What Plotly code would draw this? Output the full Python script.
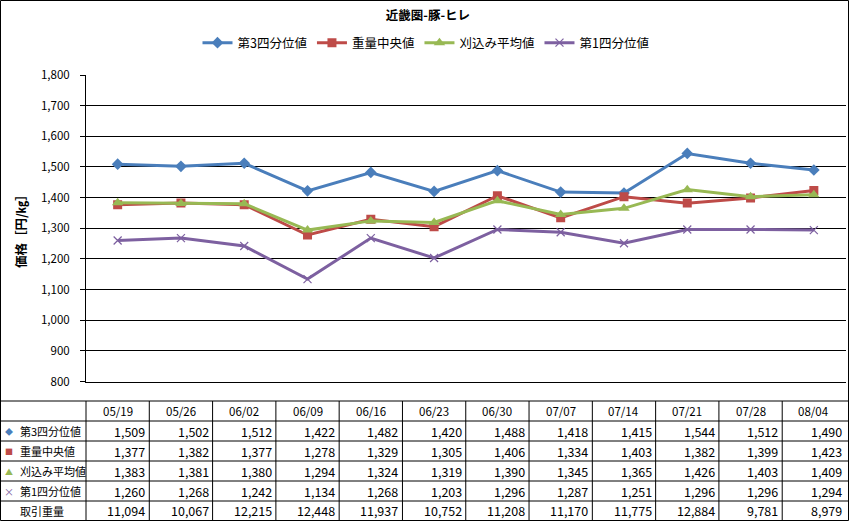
import plotly.graph_objects as go

W = 857
H = 521

dates = ["05/19", "05/26", "06/02", "06/09", "06/16", "06/23",
         "06/30", "07/07", "07/14", "07/21", "07/28", "08/04"]
q3 = [1509, 1502, 1512, 1422, 1482, 1420, 1488, 1418, 1415, 1544, 1512, 1490]
median_w = [1377, 1382, 1377, 1278, 1329, 1305, 1406, 1334, 1403, 1382, 1399, 1423]
trim_mean = [1383, 1381, 1380, 1294, 1324, 1319, 1390, 1345, 1365, 1426, 1403, 1409]
q1 = [1260, 1268, 1242, 1134, 1268, 1203, 1296, 1287, 1251, 1296, 1296, 1294]
volume = [11094, 10067, 12215, 12448, 11937, 10752, 11208, 11170, 11775, 12884, 9781, 8979]

names = ["第3四分位値", "重量中央値", "刈込み平均値", "第1四分位値"]
colors = ["#4A7EBB", "#BE4B48", "#98B954", "#7D60A0"]
symbols = ["diamond", "square", "triangle-up", "x-thin"]
msizes = [9, 9, 10, 8]
table_marks = ["◆", "■", "▲", "×"]

FONT = "Noto Sans CJK JP"


def px(x):
    return x / W


def py(y):
    return 1 - y / H


idx = list(range(len(dates)))

fig = go.Figure()
for name, vals, c, s, ms in zip(names, [q3, median_w, trim_mean, q1], colors, symbols, msizes):
    fig.add_trace(go.Scatter(
        x=idx, y=vals, name=name, mode="lines+markers",
        line=dict(color=c, width=3),
        marker=dict(symbol=s, size=ms, color=c,
                    line=dict(color=c, width=1.2 if s == "x-thin" else 0)),
    ))

shapes = []
# outer frame
shapes.append(dict(type="rect", xref="paper", yref="paper",
                   x0=px(0.5), x1=px(848.5), y0=py(520.5), y1=py(0.5),
                   line=dict(color="black", width=1)))

# data table grid
row_lines = [401, 421, 441, 461, 481, 501]
for ry in row_lines:
    shapes.append(dict(type="line", xref="paper", yref="paper",
                       x0=px(0), x1=px(848.5), y0=py(ry), y1=py(ry),
                       line=dict(color="black", width=1)))
shapes.append(dict(type="line", xref="paper", yref="paper",
                   x0=px(86), x1=px(86), y0=py(401), y1=py(520.5),
                   line=dict(color="black", width=1)))
for i in idx[1:]:
    shapes.append(dict(type="line", xref="x", yref="paper",
                       x0=i - 0.5, x1=i - 0.5, y0=py(401), y1=py(520.5),
                       line=dict(color="black", width=1)))

ann = []
row_mid = [411, 431, 451, 471, 491, 510.5]
# header row
for i, d in zip(idx, dates):
    ann.append(dict(x=i, y=py(row_mid[0]), xref="x", yref="paper", text=d,
                    showarrow=False, xanchor="center", yanchor="middle",
                    font=dict(family=FONT, size=11.5, color="black")))

rows = [q3, median_w, trim_mean, q1, volume]
labels = names + ["取引重量"]
for r, (lab, vals) in enumerate(zip(labels, rows)):
    y = py(row_mid[r + 1])
    if r < 4:
        ann.append(dict(x=px(9), y=y, xref="paper", yref="paper",
                        text=table_marks[r], showarrow=False,
                        xanchor="center", yanchor="middle",
                        font=dict(family=FONT, size=8 if r < 3 else 10, color=colors[r])))
    ann.append(dict(x=px(18), y=y, xref="paper", yref="paper", text=lab,
                    showarrow=False, xanchor="left", yanchor="middle",
                    font=dict(family=FONT, size=11, color="black")))
    for i, v in zip(idx, vals):
        ann.append(dict(x=i + 0.5, y=y, xref="x", yref="paper", text=f"{v:,}",
                        showarrow=False, xanchor="right", yanchor="middle", xshift=-2,
                        font=dict(family=FONT, size=12.5, color="black")))

# y axis title
ann.append(dict(x=px(21), y=py(228), xref="paper", yref="paper",
                text="価格［円/㎏］", textangle=-90, showarrow=False,
                xanchor="center", yanchor="middle",
                font=dict(family=FONT, size=12.5, color="black", weight="bold")))

fig.update_layout(
    width=W, height=H,
    margin=dict(l=0, r=0, t=0, b=0, pad=0, autoexpand=False),
    paper_bgcolor="white", plot_bgcolor="white",
    font=dict(family=FONT, color="black"),
    title=dict(text="近畿圏-豚-ヒレ", x=px(428), y=py(16), xanchor="center", yanchor="middle",
               font=dict(family=FONT, size=12.5, color="black", weight="bold")),
    legend=dict(orientation="h", x=px(426), y=py(43), xanchor="center", yanchor="middle",
                font=dict(family=FONT, size=12.5, color="black"),
                bgcolor="rgba(0,0,0,0)", itemwidth=30, tracegroupgap=0),
    xaxis=dict(domain=[px(86), px(845.5)], range=[-0.5, 11.5],
               showticklabels=False, showgrid=False, zeroline=False,
               showline=True, linecolor="black", linewidth=1, ticks=""),
    yaxis=dict(domain=[py(381.5), py(75)], range=[800, 1800], dtick=100,
               tickformat=",", showgrid=True, gridcolor="black", gridwidth=1,
               zeroline=False, showline=True, linecolor="black", linewidth=1,
               ticks="outside", ticklen=5, tickcolor="black", ticklabelstandoff=8,
               tickfont=dict(family=FONT, size=11.5, color="black")),
    shapes=shapes,
    annotations=ann,
    hovermode=False,
)

# page body has a default 8px margin; drop it so the figure sits at 0,0
fig.write_html("out.html", config={"displayModeBar": False},
               post_script="document.body.style.margin='0';")
